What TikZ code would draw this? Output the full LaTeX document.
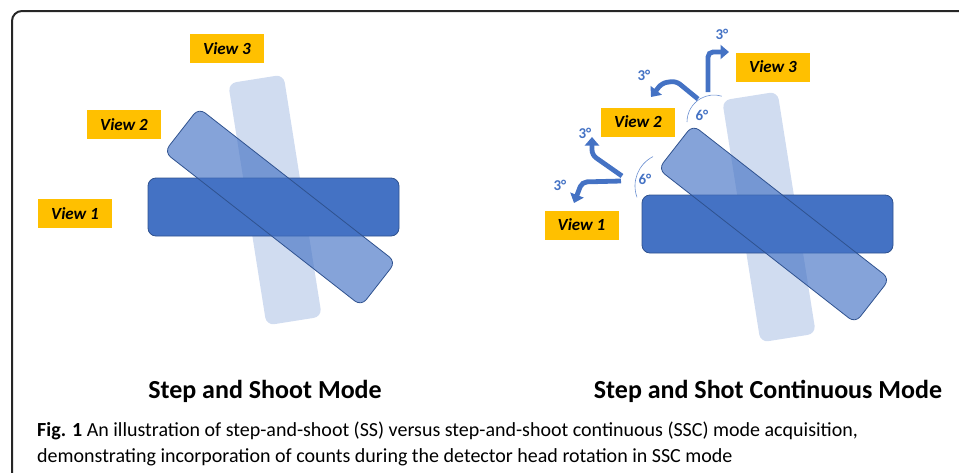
\documentclass[tikz,border=0pt]{standalone}
\usepackage{fontspec}
\setmainfont{Carlito}
\usetikzlibrary{arrows.meta}
\definecolor{cBar}{HTML}{4472C4}
\definecolor{cEdge}{HTML}{2F528F}
\definecolor{cTag}{HTML}{FFC000}
\definecolor{cInk}{HTML}{000000}
\definecolor{cFrame}{HTML}{262626}
\tikzset{
  bar/.style={draw=cEdge, fill=cBar, line width=0.8pt, rounded corners=8pt,
              minimum width=251pt, minimum height=58pt, inner sep=0pt},
  tiltbar/.style={bar, fill opacity=0.65, minimum width=250pt, minimum height=56pt},
  ghostbar/.style={bar, draw=none, fill opacity=0.25, minimum width=56pt, minimum height=245pt},
  tag/.style={fill=cTag, minimum width=74pt, minimum height=29pt, inner sep=0pt,
              font=\fontsize{17}{20}\selectfont\bfseries\itshape, text=cInk},
  deg/.style={font=\fontsize{15}{17}\selectfont\bfseries, text=cBar, inner sep=0pt},
  bendarrow/.style={draw=cBar, line width=4.8pt, rounded corners=5pt,
              -{Triangle[length=8.5pt,width=14pt]}},
  anglearc/.style={draw=cBar!80, line width=0.6pt},
  modetitle/.style={font=\fontsize{26}{30}\selectfont\bfseries, anchor=base, inner sep=0pt},
  captext/.style={font=\fontsize{20}{24}\selectfont, anchor=base west, inner sep=0pt},
}
\begin{document}
\begin{tikzpicture}[x=1pt, y=-1pt]
\useasboundingbox (0,0) rectangle (959,472);

% ------------------------------------------------------------ frame
\draw[cFrame, line width=2pt, rounded corners=10pt] (12,480) -- (12,11) -- (970,11);

% ------------------------------------------------------------ step and shoot
\node[ghostbar, rotate=9]  (ssB3) at (275,200) {};
\node[bar]                 (ssB1) at (273.5,207) {};
\node[tiltbar, rotate=-38] (ssB2) at (280,207) {};

\node[tag] (ssT3) at (227,48.5)  {View 3};
\node[tag] (ssT2) at (124,124.5) {View 2};
\node[tag] (ssT1) at (75,213.5)  {View 1};

% ------------------------------------------------------------ step and shoot continuous
\node[ghostbar, rotate=9]  (scB3) at (769,217) {};
\node[bar]                 (scB1) at (767.5,224) {};
\node[tiltbar, rotate=-38] (scB2) at (774,224) {};

\node[tag] (scT3) at (773,67)    {View 3};
\node[tag] (scT2) at (638,122)   {View 2};
\node[tag] (scT1) at (581.5,225) {View 1};

% rotation during the step: 6 degrees split in two halves
\coordinate (pivU) at (714,122);
\coordinate (pivL) at (668,186);
\draw[anglearc] (pivU) ++(180:27) arc[start angle=180, end angle=287, radius=27];
\draw[anglearc] (pivL) ++(160:33) arc[start angle=160, end angle=243, radius=33];
\node[deg] (sixU) at (702,115) {6°};
\node[deg] (sixL) at (645,179) {6°};

\draw[bendarrow] (708,92) -- (708,52) -- (729,52);
\draw[bendarrow] (698,99) -- (676,81) -- (662,83) -- (651,97);
\draw[bendarrow] (622,176) -- (592,155) -- (592,137);
\draw[bendarrow] (621,181) -- (582,182) -- (574,203);

\node[deg] (thrA) at (722,34)  {3°};
\node[deg] (thrB) at (644,75)  {3°};
\node[deg] (thrC) at (585,133) {3°};
\node[deg] (thrD) at (560,185) {3°};

% ------------------------------------------------------------ titles and caption
\node[modetitle] (ssTitle) at (265,398) {Step and Shoot Mode};
\node[modetitle] (scTitle) at (768,398) {Step and Shot Continuous Mode};

\node[captext] (fig1) at (37,436)
      {\textbf{Fig. 1} An illustration of step-and-shoot (SS) versus step-and-shoot continuous (SSC) mode acquisition,};
\node[captext] (fig2) at (37,462)
      {demonstrating incorporation of counts during the detector head rotation in SSC mode};

\end{tikzpicture}
\end{document}
